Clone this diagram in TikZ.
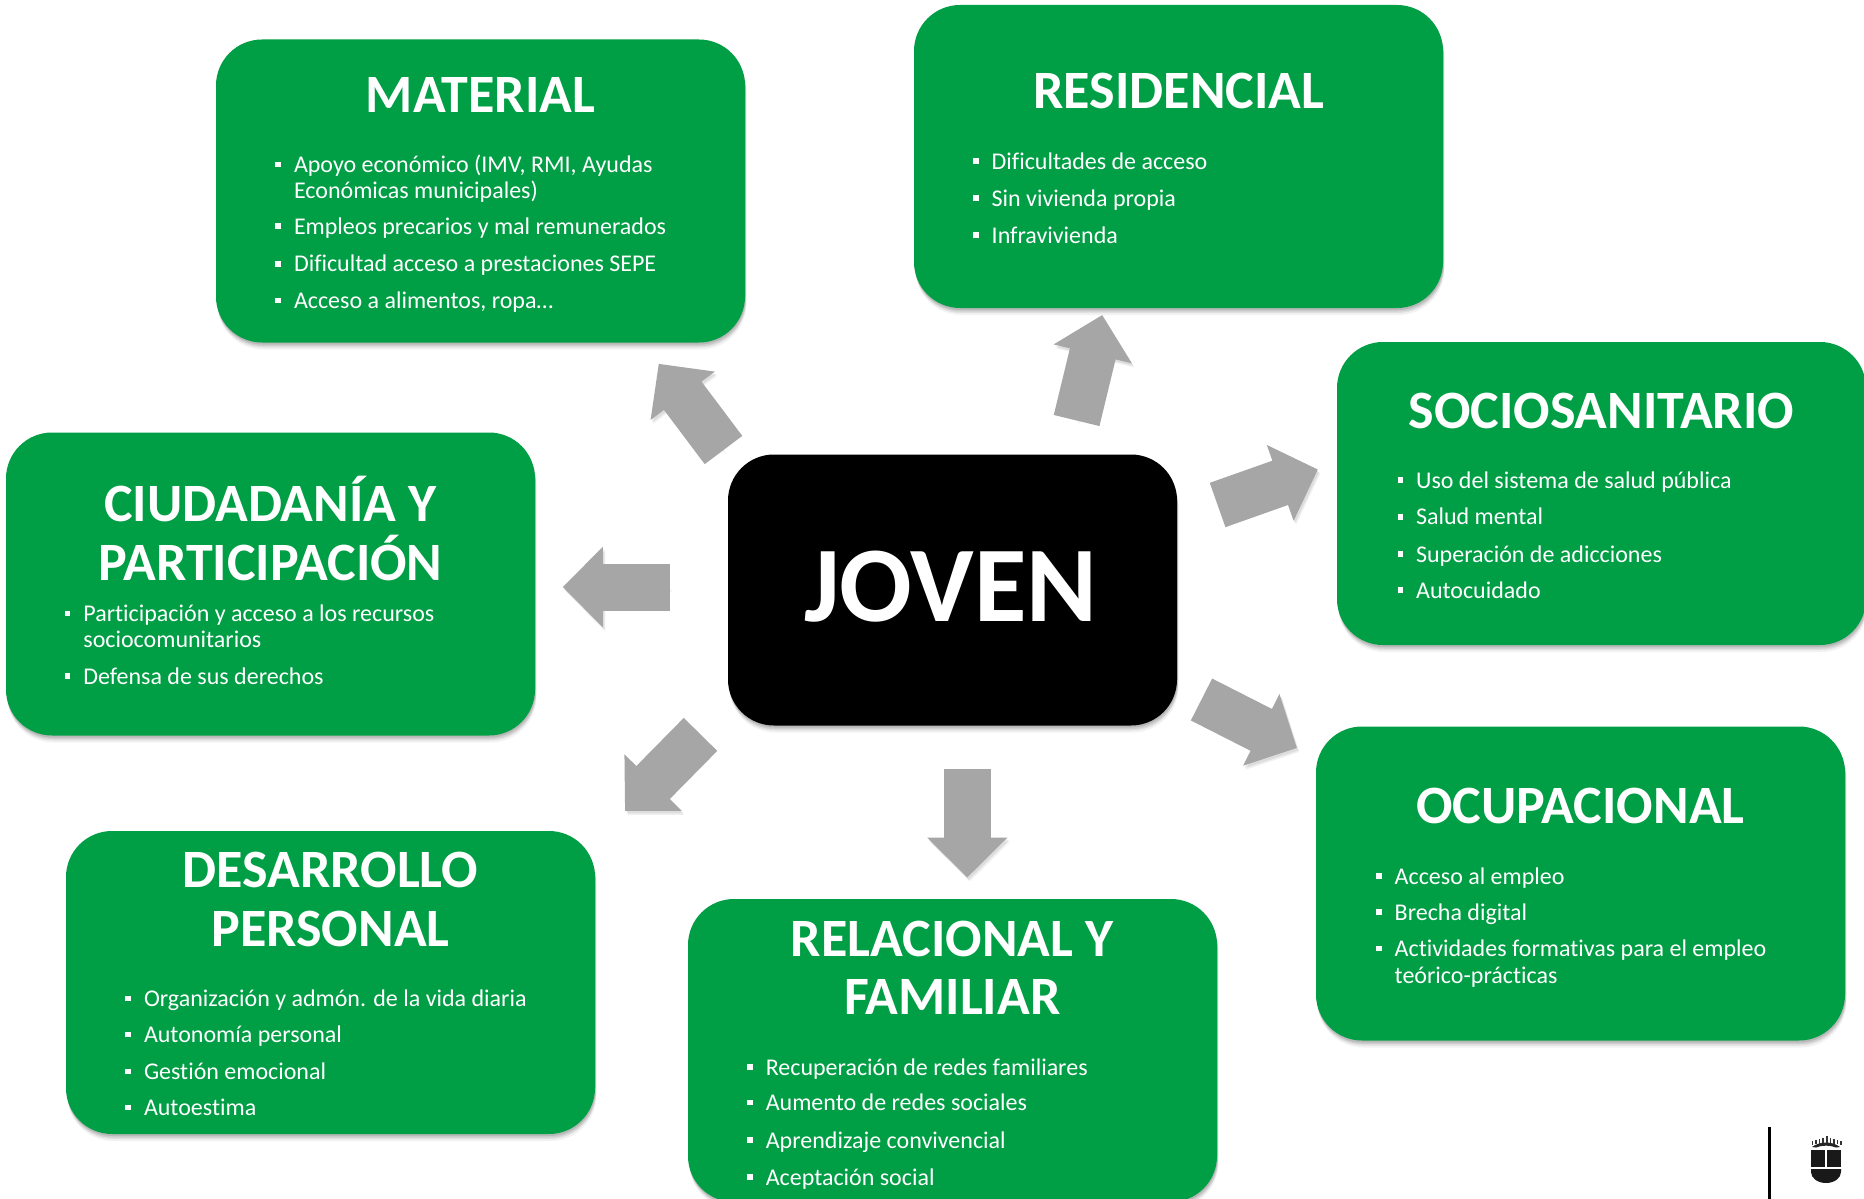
\documentclass[tikz,border=0pt]{standalone}
\usepackage{fontspec}
\setmainfont{Carlito}[Ligatures=NoCommon]
\usetikzlibrary{arrows.meta,shadows}
\definecolor{boxgreen}{HTML}{009E45}
\definecolor{arrowgrey}{HTML}{A6A6A6}
\newcommand\bul{\llap{\rule[5.4pt]{5.6pt}{5.6pt}\hspace{13pt}}}
\tikzset{
  softshadow/.style={
    general shadow={shadow xshift=1.5pt,shadow yshift=-7pt,fill=black,opacity=.05},
    general shadow={shadow xshift=1pt,shadow yshift=-5pt,fill=black,opacity=.07},
    general shadow={shadow xshift=1pt,shadow yshift=-3.5pt,fill=black,opacity=.08},
    general shadow={shadow xshift=.5pt,shadow yshift=-2pt,fill=black,opacity=.10}},
  roundbox/.style={fill=#1,draw=none,rounded corners=46pt,inner sep=0pt,outer sep=0pt,softshadow},
  greenbox/.style={roundbox=boxgreen,minimum width=529pt,minimum height=303pt},
  title/.style={text=white,font=\fontsize{54}{58.2}\selectfont\bfseries,align=center,anchor=base,inner sep=0pt},
  bitem/.style={text=white,font=\fontsize{24}{26}\selectfont,align=left,anchor=base west,inner sep=0pt},
  bigarrow/.style={draw=arrowgrey,line width=47pt,-{Triangle[width=78pt,length=40pt]},
    preaction={draw=black,draw opacity=.06,fill opacity=.06,transform canvas={shift={(2.5pt,-4pt)}}},
    preaction={draw=black,draw opacity=.08,fill opacity=.08,transform canvas={shift={(1.5pt,-2.5pt)}}}},
}
\begin{document}
\begin{tikzpicture}[x=1pt,y=-1pt]
\useasboundingbox (0,0) rectangle (1864,1199);
\fill[white] (0,0) rectangle (1864,1199);

% boxes
\node[greenbox] (material) at (480.5,191) {};
\node[greenbox] (residencial) at (1178.5,156.5) {};
\node[greenbox] (socio) at (1601.5,493.5) {};
\node[greenbox,minimum height=314pt] (ocupacional) at (1580.5,883.5) {};
\node[greenbox] (relacional) at (952.5,1050.5) {};
\node[greenbox] (desarrollo) at (330.5,982.5) {};
\node[greenbox] (ciudadania) at (270.5,584) {};
\node[roundbox=black,minimum width=449pt,minimum height=271pt] (joven) at (952.5,590) {};

% arrows
\coordinate (a1t) at (723.5,450); \coordinate (a1h) at (658.7,363.8);
\coordinate (a2t) at (1076.6,420.5);  \coordinate (a2h) at (1102.2,315);
\coordinate (a3t) at (1217.6,505);\coordinate (a3h) at (1317.9,469.5);
\coordinate (a4t) at (1201.5,699.5);\coordinate (a4h) at (1296.9,748);
\coordinate (a5t) at (967.3,769);   \coordinate (a5h) at (967.3,877.5);
\coordinate (a6t) at (700.5,734.4); \coordinate (a6h) at (625,811);
\coordinate (a7t) at (669.9,587); \coordinate (a7h) at (562.8,587);
\draw[bigarrow] (a1t) -- (a1h);
\draw[bigarrow] (a2t) -- (a2h);
\draw[bigarrow] (a3t) -- (a3h);
\draw[bigarrow] (a4t) -- (a4h);
\draw[bigarrow] (a5t) -- (a5h);
\draw[bigarrow] (a6t) -- (a6h);
\draw[bigarrow] (a7t) -- (a7h);

% centre
\node[text=white,font=\fontsize{107.5}{110}\selectfont\bfseries,anchor=base,inner sep=0pt] (jovent) at (951,621) {JOVEN};

% MATERIAL
\node[title] (t1) at (480.5,112) {MATERIAL};
\node[bitem] (m1) at (293.8,198.5) {\bul Apoyo económico (IMV, RMI, Ayudas\\Económicas municipales)};
\node[bitem] (m2) at (293.8,234.4) {\bul Empleos precarios y mal remunerados};
\node[bitem] (m3) at (293.8,271.9) {\bul Dificultad acceso a prestaciones SEPE};
\node[bitem] (m4) at (293.8,308.5) {\bul Acceso a alimentos, ropa…};

% RESIDENCIAL
\node[title] (t2) at (1178.7,108.5) {RESIDENCIAL};
\node[bitem] (r1) at (991.5,169) {\bul Dificultades de acceso};
\node[bitem] (r2) at (991.5,206.2) {\bul Sin vivienda propia};
\node[bitem] (r3) at (991.5,243) {\bul Infravivienda};

% SOCIOSANITARIO
\node[title] (t3) at (1601.3,428) {SOCIOSANITARIO};
\node[bitem] (s1) at (1415.9,488) {\bul Uso del sistema de salud pública};
\node[bitem] (s2) at (1415.9,524.9) {\bul Salud mental};
\node[bitem] (s3) at (1415.9,562.2) {\bul Superación de adicciones};
\node[bitem] (s4) at (1415.9,598.2) {\bul Autocuidado};

% OCUPACIONAL
\node[title] (t4) at (1580.5,823.5) {OCUPACIONAL};
\node[bitem] (o1) at (1394.5,884.2) {\bul Acceso al empleo};
\node[bitem] (o2) at (1394.5,920.3) {\bul Brecha digital};
\node[bitem,font=\fontsize{24}{27}\selectfont] (o3) at (1394.5,983.8) {\bul Actividades formativas para el empleo\\teórico-prácticas};

% RELACIONAL
\node[title] (t5) at (952.2,1014.4) {RELACIONAL Y\\FAMILIAR};
\node[bitem] (f1) at (765.6,1075) {\bul Recuperación de redes familiares};
\node[bitem] (f2) at (765.6,1110.6) {\bul Aumento de redes sociales};
\node[bitem] (f3) at (765.6,1148.2) {\bul Aprendizaje convivencial};
\node[bitem] (f4) at (765.6,1185) {\bul Aceptación social};

% DESARROLLO
\node[title] (t6) at (330.5,946) {DESARROLLO\\PERSONAL};
\node[bitem] (d1) at (143.8,1006.8) {\bul Organización y admón. de la vida diaria};
\node[bitem] (d2) at (143.8,1042.6) {\bul Autonomía personal};
\node[bitem] (d3) at (143.8,1079.5) {\bul Gestión emocional};
\node[bitem] (d4) at (143.8,1115.7) {\bul Autoestima};

% CIUDADANIA
\node[title] (t7) at (270.5,580) {CIUDADANÍA Y\\PARTICIPACIÓN};
\node[bitem] (c1) at (83.2,647.6) {\bul Participación y acceso a los recursos\\sociocomunitarios};
\node[bitem] (c2) at (83.2,684.4) {\bul Defensa de sus derechos};

% logo
\fill[black] (1768,1127) rectangle (1771,1199);
\fill[black!90] (1811,1150) rectangle (1824.5,1166.5);
\fill[black!90] (1826.5,1150) rectangle (1841,1166.5);
\fill[black!90] (1811,1169) -- (1841,1169) -- (1841,1172) arc[start angle=0,end angle=180,x radius=15,y radius=11] -- cycle;
\fill[black!85] (1812,1147) .. controls (1820,1141) and (1832,1141) .. (1840,1147) -- (1836,1147.5) .. controls (1830,1145) and (1822,1145) .. (1816,1147.5) -- cycle;
\foreach \dx/\dy in {0/0,3.6/1,7.2/2,10.8/3,14.4/5,18/3,21.6/2,25.2/1,28.8/0}{
  \fill[black!80] (1811.5+\dx,1141-\dy) rectangle ++(1.6,3.5+.6*\dy);
}
\end{tikzpicture}
\end{document}
